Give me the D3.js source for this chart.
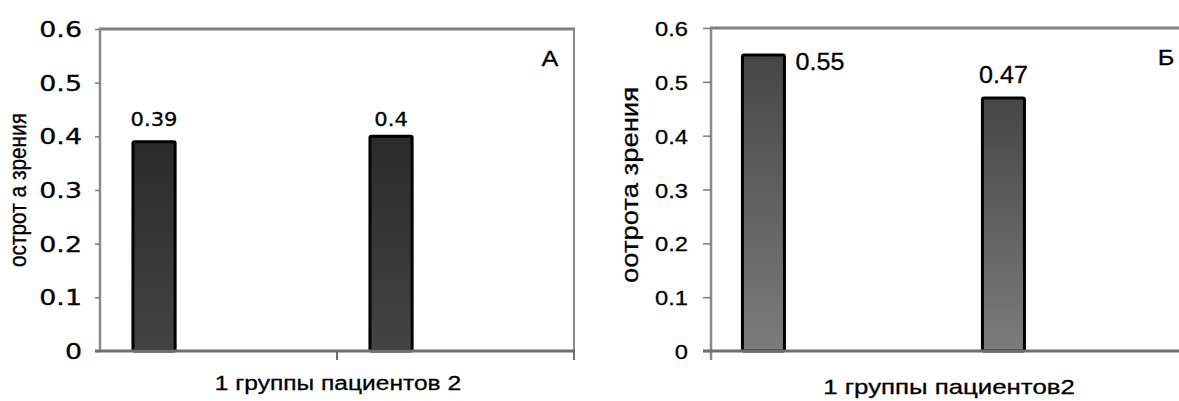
<!DOCTYPE html>
<html>
<head>
<meta charset="utf-8">
<script src="https://cdn.jsdelivr.net/npm/d3@7"></script>
<style>
  html, body { margin: 0; padding: 0; background: #fff; }
  svg { display: block; }
  text { fill: #000; stroke: #000; stroke-width: 0.3px; }
</style>
</head>
<body>
<svg id="chart" width="1179" height="401"></svg>
<script>
// Visual acuity by patient group, two panels (А and Б)
const categories = ["1", "2"];
const yTicks = [0, 0.1, 0.2, 0.3, 0.4, 0.5, 0.6];
const tickLabels = ["0", "0.1", "0.2", "0.3", "0.4", "0.5", "0.6"];
const valuesA = [0.39, 0.4];
const valuesB = [0.55, 0.47];
const labelsA = ["0.39", "0.4"];
const labelsB = ["0.55", "0.47"];
const panelLetters = ["А", "Б"];
const yTitles = ["острот а зрения", "оотрота зрения"];
const xTitles = ["1 группы пациентов 2", "1 группы пациентов2"];

const ARIAL = "Liberation Sans, Arial, sans-serif";
const VERD = "DejaVu Sans, Verdana, sans-serif";

const svg = d3.select("#chart");
const defs = svg.append("defs");

function gradient(id, top, bottom) {
  const g = defs.append("linearGradient").attr("id", id)
    .attr("x1", 0).attr("y1", 0).attr("x2", 0).attr("y2", 1);
  g.append("stop").attr("offset", "0%").attr("stop-color", top);
  g.append("stop").attr("offset", "100%").attr("stop-color", bottom);
}
gradient("fillA", "#2a2a2a", "#444444");
gradient("fillB", "#464646", "#7c7c7c");

// text placed at (x, y), optionally widened horizontally and rotated
function label(g, x, y, str, o) {
  const t = g.append("text")
    .attr("transform", `translate(${x},${y}) scale(${o.sx || 1},1) rotate(${o.rot || 0})`)
    .attr("text-anchor", o.anchor || "middle")
    .attr("font-family", o.font || ARIAL)
    .attr("font-size", o.size)
    .text(str);
  if (o.len) t.attr("textLength", o.len).attr("lengthAdjust", "spacingAndGlyphs");
  return t;
}

function drawPanel(cfg) {
  const g = svg.append("g");
  const y = d3.scaleLinear().domain([0, 0.6]).range([cfg.bottom, cfg.top]);
  const x = d3.scaleBand().domain(categories).range([cfg.left, cfg.right]).padding(0);
  const bw = x.bandwidth();

  // plot frame
  g.append("line").attr("x1", cfg.left).attr("x2", cfg.right + 1)
    .attr("y1", cfg.top).attr("y2", cfg.top)
    .attr("stroke", "#808080").attr("stroke-width", 3);
  g.append("line").attr("x1", cfg.right).attr("x2", cfg.right)
    .attr("y1", cfg.top - 1.5).attr("y2", cfg.bottom)
    .attr("stroke", "#8a8a8a").attr("stroke-width", 2);

  // y axis
  const yAxis = d3.axisLeft(y).tickValues(yTicks)
    .tickFormat((d, i) => tickLabels[i]).tickSize(cfg.tickLen).tickPadding(cfg.tickPad);
  const ya = g.append("g").attr("transform", `translate(${cfg.left},0)`).call(yAxis);
  ya.attr("font-family", null).attr("font-size", null);
  ya.select(".domain").attr("stroke", "#8a8a8a").attr("stroke-width", 2.5)
    .attr("d", `M0,${cfg.top - 1.5}V${cfg.bottom + cfg.axisExtend}`);
  ya.selectAll(".tick line").attr("stroke", "#7a7a7a").attr("stroke-width", 1.5);
  const off = cfg.tickLen + cfg.tickPad;
  ya.selectAll(".tick text")
    .attr("font-family", cfg.tickFont).attr("font-size", cfg.tickSize)
    .attr("fill", "#000").attr("dy", "0.36em")
    .attr("transform", `translate(${-off},0) scale(${cfg.tickSx},1) translate(${off},0)`);

  // bars
  g.selectAll("rect.bar").data(cfg.values).join("rect")
    .attr("class", "bar")
    .attr("x", (d, i) => x(categories[i]) + bw * cfg.barOffset)
    .attr("width", bw * cfg.barWidth)
    .attr("y", d => y(d))
    .attr("height", d => y(0) - y(d))
    .attr("rx", 1.5)
    .attr("fill", `url(#${cfg.fill})`)
    .attr("stroke", "#000").attr("stroke-width", 3);

  // category axis line and its ticks
  g.append("line").attr("x1", cfg.left - cfg.tickLen).attr("x2", cfg.right + 1)
    .attr("y1", cfg.bottom).attr("y2", cfg.bottom)
    .attr("stroke", "#6e6e6e").attr("stroke-width", 3);
  if (cfg.catTicks) {
    [categories[1], "end"].forEach(k => {
      const xx = k === "end" ? cfg.right : x(k);
      g.append("line").attr("x1", xx).attr("x2", xx)
        .attr("y1", cfg.bottom).attr("y2", cfg.bottom + 9)
        .attr("stroke", "#6e6e6e").attr("stroke-width", 2);
    });
  }

  // value labels
  cfg.values.forEach((d, i) => {
    const bx = x(categories[i]) + bw * cfg.barOffset;
    const cx = bx + bw * cfg.barWidth / 2;
    const place = cfg.labelPlace[i];
    const o = { font: cfg.valFont, size: cfg.valSize, sx: cfg.valSx };
    if (place === "right") {
      label(g, bx + bw * cfg.barWidth + 11, y(d) + 15, cfg.labels[i], { ...o, anchor: "start" });
    } else if (place === "level") {
      label(g, cx, y(d3.max(cfg.values)) - 10, cfg.labels[i], o);
    } else {
      label(g, cx, y(d) - 15, cfg.labels[i], o);
    }
  });

  // panel letter
  label(g, cfg.letterX, cfg.top + 37, cfg.letter, { size: 22, sx: 1.15 });

  // axis titles
  label(g, cfg.yTitleX, cfg.yTitleY, cfg.yTitle,
    { size: cfg.yTitleSize, sx: cfg.yTitleSx, rot: -90, len: cfg.yTitleLen });
  label(g, cfg.xTitleX, cfg.xTitleY, cfg.xTitle,
    { size: 21, sx: cfg.xTitleSx });
}

drawPanel({
  left: 100, right: 574, top: 29, bottom: 351, axisExtend: 0, catTicks: true,
  tickLen: 5, tickPad: 13, tickFont: VERD, tickSize: 21, tickSx: 1.28,
  values: valuesA, labels: labelsA, labelPlace: ["level", "level"],
  valFont: VERD, valSize: 19.5, valSx: 1.08,
  barOffset: 0.139, barWidth: 0.178, fill: "fillA",
  letter: panelLetters[0], letterX: 550,
  yTitle: yTitles[0], yTitleX: 25.5, yTitleY: 190, yTitleSize: 20.5, yTitleSx: 1.15, yTitleLen: 154,
  xTitle: xTitles[0], xTitleX: 338, xTitleY: 390, xTitleSx: 1.17
});

drawPanel({
  left: 711, right: 1191, top: 28, bottom: 351, axisExtend: 9, catTicks: false,
  tickLen: 8, tickPad: 15, tickFont: ARIAL, tickSize: 21, tickSx: 1.13,
  values: valuesB, labels: labelsB, labelPlace: ["right", "top"],
  valFont: ARIAL, valSize: 23.5, valSx: 1.07,
  barOffset: 0.131, barWidth: 0.175, fill: "fillB",
  letter: panelLetters[1], letterX: 1166,
  yTitle: yTitles[1], yTitleX: 638, yTitleY: 185, yTitleSize: 23.5, yTitleSx: 1, yTitleLen: 196,
  xTitle: xTitles[1], xTitleX: 949, xTitleY: 394, xTitleSx: 1.23
});
</script>
</body>
</html>
